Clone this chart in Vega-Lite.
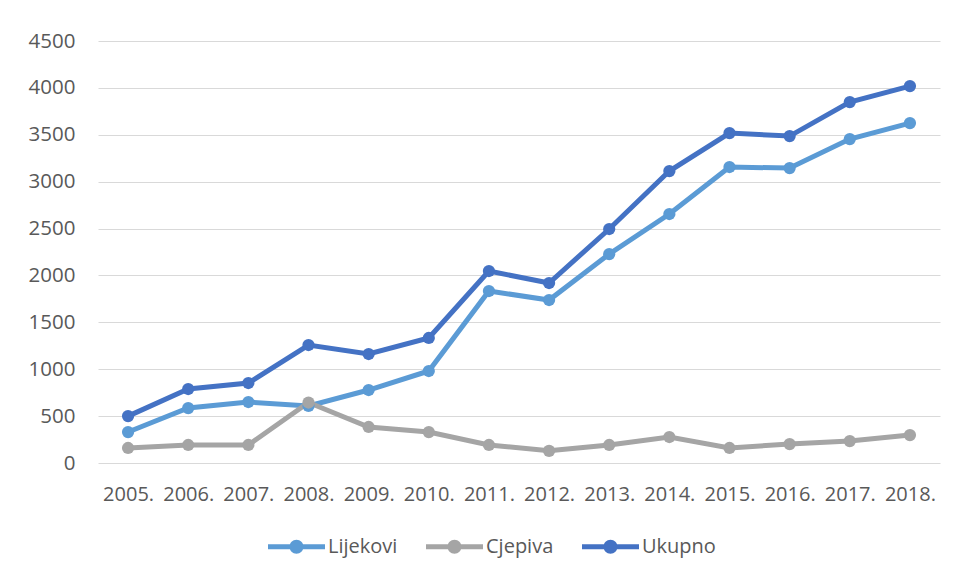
{
  "$schema": "https://vega.github.io/schema/vega-lite/v6.json",
  "autosize": "none",
  "width": 842,
  "height": 422,
  "padding": {"left": 98, "top": 41, "right": 15, "bottom": 115},
  "background": "white",
  "config": {
    "view": {"stroke": null},
    "font": "Open Sans",
    "axis": {"labelFont": "Open Sans", "labelColor": "#595959", "gridColor": "#D9D9D9", "gridWidth": 1.2, "domain": false, "ticks": false}
  },
  "data": {"values": [
    {"year": "2005.", "series": "Lijekovi", "value": 330},
    {"year": "2006.", "series": "Lijekovi", "value": 586},
    {"year": "2007.", "series": "Lijekovi", "value": 650},
    {"year": "2008.", "series": "Lijekovi", "value": 608},
    {"year": "2009.", "series": "Lijekovi", "value": 778},
    {"year": "2010.", "series": "Lijekovi", "value": 981},
    {"year": "2011.", "series": "Lijekovi", "value": 1834},
    {"year": "2012.", "series": "Lijekovi", "value": 1738},
    {"year": "2013.", "series": "Lijekovi", "value": 2228},
    {"year": "2014.", "series": "Lijekovi", "value": 2655},
    {"year": "2015.", "series": "Lijekovi", "value": 3156},
    {"year": "2016.", "series": "Lijekovi", "value": 3145},
    {"year": "2017.", "series": "Lijekovi", "value": 3454},
    {"year": "2018.", "series": "Lijekovi", "value": 3625},
    {"year": "2005.", "series": "Cjepiva", "value": 160},
    {"year": "2006.", "series": "Cjepiva", "value": 192},
    {"year": "2007.", "series": "Cjepiva", "value": 192},
    {"year": "2008.", "series": "Cjepiva", "value": 645},
    {"year": "2009.", "series": "Cjepiva", "value": 384},
    {"year": "2010.", "series": "Cjepiva", "value": 330},
    {"year": "2011.", "series": "Cjepiva", "value": 192},
    {"year": "2012.", "series": "Cjepiva", "value": 130},
    {"year": "2013.", "series": "Cjepiva", "value": 192},
    {"year": "2014.", "series": "Cjepiva", "value": 277},
    {"year": "2015.", "series": "Cjepiva", "value": 160},
    {"year": "2016.", "series": "Cjepiva", "value": 202},
    {"year": "2017.", "series": "Cjepiva", "value": 234},
    {"year": "2018.", "series": "Cjepiva", "value": 298},
    {"year": "2005.", "series": "Ukupno", "value": 500},
    {"year": "2006.", "series": "Ukupno", "value": 789},
    {"year": "2007.", "series": "Ukupno", "value": 853},
    {"year": "2008.", "series": "Ukupno", "value": 1258},
    {"year": "2009.", "series": "Ukupno", "value": 1162},
    {"year": "2010.", "series": "Ukupno", "value": 1333},
    {"year": "2011.", "series": "Ukupno", "value": 2047},
    {"year": "2012.", "series": "Ukupno", "value": 1919},
    {"year": "2013.", "series": "Ukupno", "value": 2495},
    {"year": "2014.", "series": "Ukupno", "value": 3113},
    {"year": "2015.", "series": "Ukupno", "value": 3518},
    {"year": "2016.", "series": "Ukupno", "value": 3486},
    {"year": "2017.", "series": "Ukupno", "value": 3849},
    {"year": "2018.", "series": "Ukupno", "value": 4019}
  ]},
  "mark": {"type": "line", "strokeWidth": 5, "point": {"size": 150, "filled": true, "opacity": 1}},
  "encoding": {
    "x": {"field": "year", "type": "ordinal", "sort": null, "title": null,
      "scale": {"padding": 0.5},
      "axis": {"labelAngle": 0, "grid": false, "labelPadding": 21, "labelFontSize": 20, "labelOverlap": false}},
    "y": {"field": "value", "type": "quantitative", "title": null,
      "scale": {"domain": [0, 4500], "nice": false},
      "axis": {"values": [0, 500, 1000, 1500, 2000, 2500, 3000, 3500, 4000, 4500], "format": "d", "labelPadding": 23, "labelFontSize": 20.5}},
    "color": {"field": "series", "type": "nominal", "sort": null,
      "scale": {"domain": ["Lijekovi", "Cjepiva", "Ukupno"], "range": ["#5B9BD5", "#A5A5A5", "#4472C4"]},
      "legend": {"title": null, "orient": "none", "direction": "horizontal", "legendX": 170, "legendY": 477,
        "symbolType": "M-1,-0.088H1V0.088H-1Z M0.245,0A0.245,0.245 0 1,1 -0.245,0A0.245,0.245 0 1,1 0.245,0Z",
        "symbolSize": 3249, "symbolStrokeWidth": 0, "symbolOpacity": 1,
        "labelFontSize": 20, "labelColor": "#595959", "labelFont": "Open Sans", "labelOffset": 3, "columnPadding": 28}}
  }
}
